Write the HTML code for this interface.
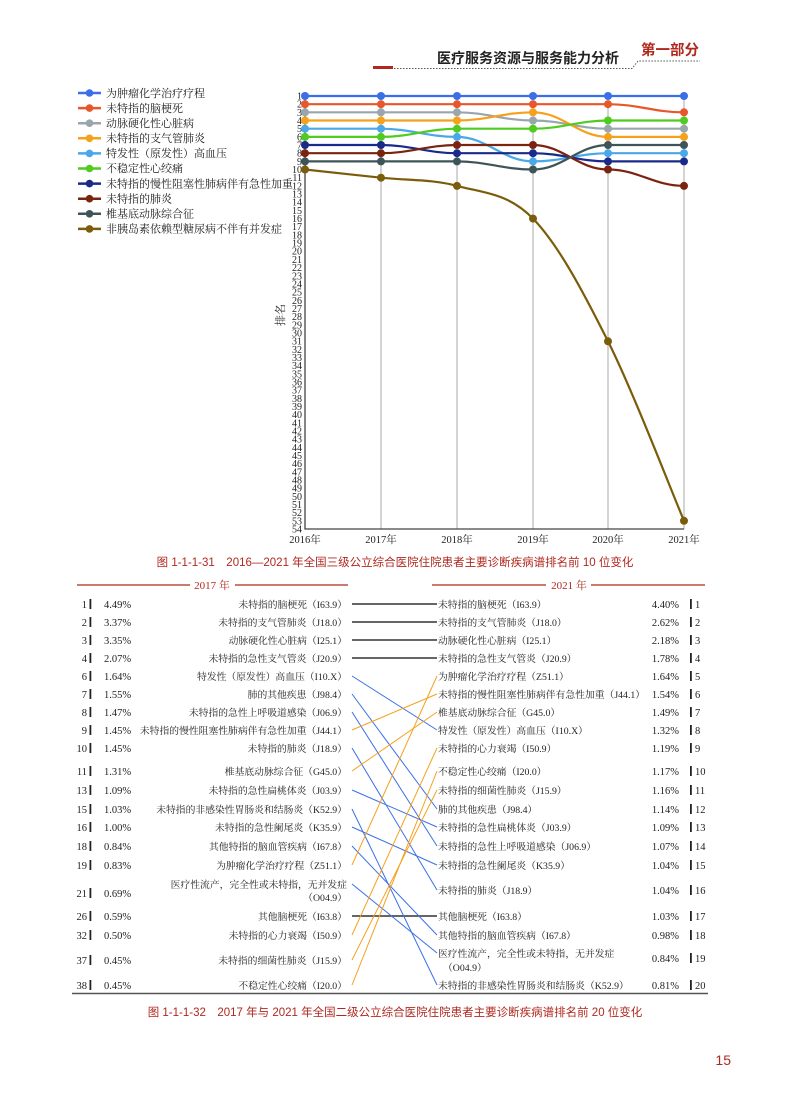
<!DOCTYPE html>
<html><head><meta charset="utf-8"><style>
html,body{margin:0;padding:0;background:#fff}
svg{display:block}
.s{font-family:"Liberation Serif","Noto Serif CJK SC",serif}
.ss{font-family:"Liberation Sans","Noto Sans CJK SC",sans-serif}
</style></head><body>
<svg width="790" height="1100" viewBox="0 0 790 1100" xmlns="http://www.w3.org/2000/svg">
<!-- header -->
<rect x="373" y="66" width="20" height="3" fill="#b0281e"/>
<path d="M394 68.5 H632 L638 61 H700" fill="none" stroke="#555" stroke-width="1" stroke-dasharray="1.5 1.5"/>
<text x="437" y="63" class="ss" font-size="14" fill="#222" font-weight="bold">医疗服务资源与服务能力分析</text>
<text x="641" y="55" class="ss" font-size="14.5" fill="#b0281e" font-weight="bold">第一部分</text>

<!-- legend -->
<g class="s" font-size="11" fill="#222">
<g stroke-width="2.5"><line x1="78" y1="93" x2="101" y2="93" stroke="#3a6fe8"/><circle cx="89.5" cy="93" r="3.8" fill="#3a6fe8"/></g><text x="106" y="97">为肿瘤化学治疗疗程</text>
<g stroke-width="2.5"><line x1="78" y1="108.1" x2="101" y2="108.1" stroke="#e8572a"/><circle cx="89.5" cy="108.1" r="3.8" fill="#e8572a"/></g><text x="106" y="112">未特指的脑梗死</text>
<g stroke-width="2.5"><line x1="78" y1="123.2" x2="101" y2="123.2" stroke="#99a6ad"/><circle cx="89.5" cy="123.2" r="3.8" fill="#99a6ad"/></g><text x="106" y="127">动脉硬化性心脏病</text>
<g stroke-width="2.5"><line x1="78" y1="138.3" x2="101" y2="138.3" stroke="#f5a11c"/><circle cx="89.5" cy="138.3" r="3.8" fill="#f5a11c"/></g><text x="106" y="142">未特指的支气管肺炎</text>
<g stroke-width="2.5"><line x1="78" y1="153.4" x2="101" y2="153.4" stroke="#4aa8ea"/><circle cx="89.5" cy="153.4" r="3.8" fill="#4aa8ea"/></g><text x="106" y="157">特发性（原发性）高血压</text>
<g stroke-width="2.5"><line x1="78" y1="168.5" x2="101" y2="168.5" stroke="#4fcc1f"/><circle cx="89.5" cy="168.5" r="3.8" fill="#4fcc1f"/></g><text x="106" y="172">不稳定性心绞痛</text>
<g stroke-width="2.5"><line x1="78" y1="183.6" x2="101" y2="183.6" stroke="#1a2a8a"/><circle cx="89.5" cy="183.6" r="3.8" fill="#1a2a8a"/></g><text x="106" y="187.5">未特指的慢性阻塞性肺病伴有急性加重</text>
<g stroke-width="2.5"><line x1="78" y1="198.7" x2="101" y2="198.7" stroke="#7a2410"/><circle cx="89.5" cy="198.7" r="3.8" fill="#7a2410"/></g><text x="106" y="202.5">未特指的肺炎</text>
<g stroke-width="2.5"><line x1="78" y1="213.8" x2="101" y2="213.8" stroke="#3d5558"/><circle cx="89.5" cy="213.8" r="3.8" fill="#3d5558"/></g><text x="106" y="217.5">椎基底动脉综合征</text>
<g stroke-width="2.5"><line x1="78" y1="228.9" x2="101" y2="228.9" stroke="#7a5c0a"/><circle cx="89.5" cy="228.9" r="3.8" fill="#7a5c0a"/></g><text x="106" y="232.5">非胰岛素依赖型糖尿病不伴有并发症</text>
</g>

<!-- grid -->
<g stroke="#aaa" stroke-width="1">
<line x1="381" y1="92" x2="381" y2="529"/><line x1="457" y1="92" x2="457" y2="529"/><line x1="533" y1="92" x2="533" y2="529"/><line x1="608" y1="92" x2="608" y2="529"/><line x1="684" y1="92" x2="684" y2="529"/>
</g>
<path d="M305 92 V529 H684" fill="none" stroke="#444" stroke-width="1.3"/>
<text x="284" y="315" class="s" font-size="11" fill="#222" transform="rotate(-90 284 315)" text-anchor="middle">排名</text>
<g class="s" font-size="10" fill="#222" text-anchor="end">
<text x="302" y="99.5">1</text><text x="302" y="107.7">2</text><text x="302" y="115.8">3</text><text x="302" y="124">4</text><text x="302" y="132.2">5</text><text x="302" y="140.4">6</text><text x="302" y="148.5">7</text><text x="302" y="156.7">8</text><text x="302" y="164.9">9</text><text x="302" y="173">10</text>
<text x="302" y="181.2">11</text><text x="302" y="189.4">12</text><text x="302" y="197.5">13</text><text x="302" y="205.7">14</text><text x="302" y="213.9">15</text><text x="302" y="222.1">16</text><text x="302" y="230.2">17</text><text x="302" y="238.4">18</text><text x="302" y="246.6">19</text><text x="302" y="254.7">20</text>
<text x="302" y="262.9">21</text><text x="302" y="271.1">22</text><text x="302" y="279.3">23</text><text x="302" y="287.4">24</text><text x="302" y="295.6">25</text><text x="302" y="303.8">26</text><text x="302" y="311.9">27</text><text x="302" y="320.1">28</text><text x="302" y="328.3">29</text><text x="302" y="336.5">30</text>
<text x="302" y="344.6">31</text><text x="302" y="352.8">32</text><text x="302" y="361">33</text><text x="302" y="369.1">34</text><text x="302" y="377.3">35</text><text x="302" y="385.5">36</text><text x="302" y="393.7">37</text><text x="302" y="401.8">38</text><text x="302" y="410">39</text><text x="302" y="418.2">40</text>
<text x="302" y="426.3">41</text><text x="302" y="434.5">42</text><text x="302" y="442.7">43</text><text x="302" y="450.9">44</text><text x="302" y="459">45</text><text x="302" y="467.2">46</text><text x="302" y="475.4">47</text><text x="302" y="483.5">48</text><text x="302" y="491.7">49</text><text x="302" y="499.9">50</text>
<text x="302" y="508.1">51</text><text x="302" y="516.2">52</text><text x="302" y="524.4">53</text><text x="302" y="532.6">54</text>
</g>
<g class="s" font-size="10.5" fill="#222" text-anchor="middle">
<text x="305" y="543">2016年</text><text x="381" y="543">2017年</text><text x="457" y="543">2018年</text><text x="533" y="543">2019年</text><text x="608" y="543">2020年</text><text x="684" y="543">2021年</text>
</g>

<!-- series -->
<g fill="none" stroke-width="2.2">
<path d="M305 96 H684" stroke="#3a6fe8"/>
<path d="M305 104.2 H608 C638 104.2 654 112.3 684 112.3" stroke="#e8572a"/>
<path d="M305 112.3 H457 C487 112.3 503 120.5 533 120.5 S578 128.7 608 128.7 H684" stroke="#99a6ad"/>
<path d="M305 120.5 H457 C487 120.5 503 112.3 533 112.3 S578 136.9 608 136.9 H684" stroke="#f5a11c"/>
<path d="M305 128.7 H381 C411 128.7 427 136.9 457 136.9 S503 161.4 533 161.4 S578 153.2 608 153.2 H684" stroke="#4aa8ea"/>
<path d="M305 136.9 H381 C411 136.9 427 128.7 457 128.7 H533 C563 128.7 578 120.5 608 120.5 H684" stroke="#4fcc1f"/>
<path d="M305 145 H381 C411 145 427 153.2 457 153.2 H533 C563 153.2 578 161.4 608 161.4 H684" stroke="#1a2a8a"/>
<path d="M305 153.2 H381 C411 153.2 427 145 457 145 H533 C563 145 578 169.5 608 169.5 S654 185.9 684 185.9" stroke="#7a2410"/>
<path d="M305 161.4 H457 C487 161.4 503 169.5 533 169.5 S578 145 608 145 H684" stroke="#3d5558"/>
<path d="M305 169.5 C317.7 170.9 355.7 175 381 177.7 C406.3 180.4 431.7 179.1 457 185.9 C482.3 192.7 507.8 192.7 533 218.6 C558.2 244.5 582.8 290.9 608 341.3 C633.2 391.7 671.3 490.9 684 520.8" stroke="#7a5c0a"/>
</g>
<g>
<g fill="#3a6fe8"><circle cx="305" cy="96" r="4"/><circle cx="381" cy="96" r="4"/><circle cx="457" cy="96" r="4"/><circle cx="533" cy="96" r="4"/><circle cx="608" cy="96" r="4"/><circle cx="684" cy="96" r="4"/></g>
<g fill="#e8572a"><circle cx="305" cy="104.2" r="4"/><circle cx="381" cy="104.2" r="4"/><circle cx="457" cy="104.2" r="4"/><circle cx="533" cy="104.2" r="4"/><circle cx="608" cy="104.2" r="4"/><circle cx="684" cy="112.3" r="4"/></g>
<g fill="#99a6ad"><circle cx="305" cy="112.3" r="4"/><circle cx="381" cy="112.3" r="4"/><circle cx="457" cy="112.3" r="4"/><circle cx="533" cy="120.5" r="4"/><circle cx="608" cy="128.7" r="4"/><circle cx="684" cy="128.7" r="4"/></g>
<g fill="#f5a11c"><circle cx="305" cy="120.5" r="4"/><circle cx="381" cy="120.5" r="4"/><circle cx="457" cy="120.5" r="4"/><circle cx="533" cy="112.3" r="4"/><circle cx="608" cy="136.9" r="4"/><circle cx="684" cy="136.9" r="4"/></g>
<g fill="#4aa8ea"><circle cx="305" cy="128.7" r="4"/><circle cx="381" cy="128.7" r="4"/><circle cx="457" cy="136.9" r="4"/><circle cx="533" cy="161.4" r="4"/><circle cx="608" cy="153.2" r="4"/><circle cx="684" cy="153.2" r="4"/></g>
<g fill="#4fcc1f"><circle cx="305" cy="136.9" r="4"/><circle cx="381" cy="136.9" r="4"/><circle cx="457" cy="128.7" r="4"/><circle cx="533" cy="128.7" r="4"/><circle cx="608" cy="120.5" r="4"/><circle cx="684" cy="120.5" r="4"/></g>
<g fill="#1a2a8a"><circle cx="305" cy="145" r="4"/><circle cx="381" cy="145" r="4"/><circle cx="457" cy="153.2" r="4"/><circle cx="533" cy="153.2" r="4"/><circle cx="608" cy="161.4" r="4"/><circle cx="684" cy="161.4" r="4"/></g>
<g fill="#7a2410"><circle cx="305" cy="153.2" r="4"/><circle cx="381" cy="153.2" r="4"/><circle cx="457" cy="145" r="4"/><circle cx="533" cy="145" r="4"/><circle cx="608" cy="169.5" r="4"/><circle cx="684" cy="185.9" r="4"/></g>
<g fill="#3d5558"><circle cx="305" cy="161.4" r="4"/><circle cx="381" cy="161.4" r="4"/><circle cx="457" cy="161.4" r="4"/><circle cx="533" cy="169.5" r="4"/><circle cx="608" cy="145" r="4"/><circle cx="684" cy="145" r="4"/></g>
<g fill="#7a5c0a"><circle cx="305" cy="169.5" r="4"/><circle cx="381" cy="177.7" r="4"/><circle cx="457" cy="185.9" r="4"/><circle cx="533" cy="218.6" r="4"/><circle cx="608" cy="341.3" r="4"/><circle cx="684" cy="520.8" r="4"/></g>
</g>

<text x="395" y="566" class="ss" font-size="11.5" fill="#b0281e" text-anchor="middle">图 1-1-1-31　2016—2021 年全国三级公立综合医院住院患者主要诊断疾病谱排名前 10 位变化</text>

<!-- table header -->
<g stroke="#b0281e" stroke-width="1.2">
<line x1="77" y1="585" x2="190" y2="585"/><line x1="235" y1="585" x2="348" y2="585"/>
<line x1="432" y1="585" x2="546" y2="585"/><line x1="591" y1="585" x2="705" y2="585"/>
</g>
<text x="212" y="589" class="s" font-size="11" fill="#b0281e" text-anchor="middle">2017 年</text>
<text x="569" y="589" class="s" font-size="11" fill="#b0281e" text-anchor="middle">2021 年</text>

<!-- connectors -->
<g stroke-width="1" fill="none">
<g stroke="#333" stroke-width="1.4"><line x1="352" y1="604" x2="437" y2="604"/><line x1="352" y1="622" x2="437" y2="622"/><line x1="352" y1="640" x2="437" y2="640"/><line x1="352" y1="658" x2="437" y2="658"/><line x1="352" y1="916" x2="437" y2="916"/></g>
<g stroke="#3a6fe8">
<line x1="352" y1="676" x2="437" y2="730"/><line x1="352" y1="694" x2="437" y2="809"/><line x1="352" y1="712" x2="437" y2="846"/><line x1="352" y1="748" x2="437" y2="890"/><line x1="352" y1="790" x2="437" y2="827"/><line x1="352" y1="809" x2="437" y2="985"/><line x1="352" y1="827" x2="437" y2="865"/><line x1="352" y1="846" x2="437" y2="935"/><line x1="352" y1="884" x2="437" y2="953"/>
</g>
<g stroke="#f5a11c">
<line x1="352" y1="730" x2="437" y2="694"/><line x1="352" y1="771" x2="437" y2="712"/><line x1="352" y1="865" x2="437" y2="676"/><line x1="352" y1="935" x2="437" y2="748"/><line x1="352" y1="960" x2="437" y2="790"/><line x1="352" y1="985" x2="437" y2="771"/>
</g>
</g>

<!-- left table -->
<g class="s" font-size="10.5" fill="#222">
<g text-anchor="end">
<text x="87" y="608">1</text><text x="87" y="626">2</text><text x="87" y="644">3</text><text x="87" y="662">4</text><text x="87" y="680">6</text><text x="87" y="698">7</text><text x="87" y="716">8</text><text x="87" y="734">9</text><text x="87" y="752">10</text><text x="87" y="775">11</text><text x="87" y="794">13</text><text x="87" y="813">15</text><text x="87" y="831">16</text><text x="87" y="850">18</text><text x="87" y="869">19</text><text x="87" y="897">21</text><text x="87" y="920">26</text><text x="87" y="939">32</text><text x="87" y="964">37</text><text x="87" y="989">38</text>
</g>
<g fill="#222"><rect x="89.5" y="599" width="1.8" height="10"/><rect x="89.5" y="617" width="1.8" height="10"/><rect x="89.5" y="635" width="1.8" height="10"/><rect x="89.5" y="653" width="1.8" height="10"/><rect x="89.5" y="671" width="1.8" height="10"/><rect x="89.5" y="689" width="1.8" height="10"/><rect x="89.5" y="707" width="1.8" height="10"/><rect x="89.5" y="725" width="1.8" height="10"/><rect x="89.5" y="743" width="1.8" height="10"/><rect x="89.5" y="766" width="1.8" height="10"/><rect x="89.5" y="785" width="1.8" height="10"/><rect x="89.5" y="804" width="1.8" height="10"/><rect x="89.5" y="822" width="1.8" height="10"/><rect x="89.5" y="841" width="1.8" height="10"/><rect x="89.5" y="860" width="1.8" height="10"/><rect x="89.5" y="888" width="1.8" height="10"/><rect x="89.5" y="911" width="1.8" height="10"/><rect x="89.5" y="930" width="1.8" height="10"/><rect x="89.5" y="955" width="1.8" height="10"/><rect x="89.5" y="980" width="1.8" height="10"/></g>
<text x="104" y="608">4.49%</text><text x="104" y="626">3.37%</text><text x="104" y="644">3.35%</text><text x="104" y="662">2.07%</text><text x="104" y="680">1.64%</text><text x="104" y="698">1.55%</text><text x="104" y="716">1.47%</text><text x="104" y="734">1.45%</text><text x="104" y="752">1.45%</text><text x="104" y="775">1.31%</text><text x="104" y="794">1.09%</text><text x="104" y="813">1.03%</text><text x="104" y="831">1.00%</text><text x="104" y="850">0.84%</text><text x="104" y="869">0.83%</text><text x="104" y="897">0.69%</text><text x="104" y="920">0.59%</text><text x="104" y="939">0.50%</text><text x="104" y="964">0.45%</text><text x="104" y="989">0.45%</text>
<g text-anchor="end" font-size="9.8">
<text x="347" y="608">未特指的脑梗死（I63.9）</text>
<text x="347" y="626">未特指的支气管肺炎（J18.0）</text>
<text x="347" y="644">动脉硬化性心脏病（I25.1）</text>
<text x="347" y="662">未特指的急性支气管炎（J20.9）</text>
<text x="347" y="680">特发性（原发性）高血压（I10.X）</text>
<text x="347" y="698">肺的其他疾患（J98.4）</text>
<text x="347" y="716">未特指的急性上呼吸道感染（J06.9）</text>
<text x="347" y="734">未特指的慢性阻塞性肺病伴有急性加重（J44.1）</text>
<text x="347" y="752">未特指的肺炎（J18.9）</text>
<text x="347" y="775">椎基底动脉综合征（G45.0）</text>
<text x="347" y="794">未特指的急性扁桃体炎（J03.9）</text>
<text x="347" y="813">未特指的非感染性胃肠炎和结肠炎（K52.9）</text>
<text x="347" y="831">未特指的急性阑尾炎（K35.9）</text>
<text x="347" y="850">其他特指的脑血管疾病（I67.8）</text>
<text x="347" y="869">为肿瘤化学治疗疗程（Z51.1）</text>
<text x="347" y="888">医疗性流产，完全性或未特指，无并发症</text>
<text x="347" y="901">（O04.9）</text>
<text x="347" y="920">其他脑梗死（I63.8）</text>
<text x="347" y="939">未特指的心力衰竭（I50.9）</text>
<text x="347" y="964">未特指的细菌性肺炎（J15.9）</text>
<text x="347" y="989">不稳定性心绞痛（I20.0）</text>
</g>

<!-- right table -->
<g font-size="9.8">
<text x="438" y="608">未特指的脑梗死（I63.9）</text>
<text x="438" y="626">未特指的支气管肺炎（J18.0）</text>
<text x="438" y="644">动脉硬化性心脏病（I25.1）</text>
<text x="438" y="662">未特指的急性支气管炎（J20.9）</text>
<text x="438" y="680">为肿瘤化学治疗疗程（Z51.1）</text>
<text x="438" y="698">未特指的慢性阻塞性肺病伴有急性加重（J44.1）</text>
<text x="438" y="716">椎基底动脉综合征（G45.0）</text>
<text x="438" y="734">特发性（原发性）高血压（I10.X）</text>
<text x="438" y="752">未特指的心力衰竭（I50.9）</text>
<text x="438" y="775">不稳定性心绞痛（I20.0）</text>
<text x="438" y="794">未特指的细菌性肺炎（J15.9）</text>
<text x="438" y="813">肺的其他疾患（J98.4）</text>
<text x="438" y="831">未特指的急性扁桃体炎（J03.9）</text>
<text x="438" y="850">未特指的急性上呼吸道感染（J06.9）</text>
<text x="438" y="869">未特指的急性阑尾炎（K35.9）</text>
<text x="438" y="894">未特指的肺炎（J18.9）</text>
<text x="438" y="920">其他脑梗死（I63.8）</text>
<text x="438" y="939">其他特指的脑血管疾病（I67.8）</text>
<text x="438" y="957">医疗性流产，完全性或未特指，无并发症</text>
<text x="443" y="971">（O04.9）</text>
<text x="438" y="989">未特指的非感染性胃肠炎和结肠炎（K52.9）</text>
</g>
<g text-anchor="end">
<text x="679" y="608">4.40%</text><text x="679" y="626">2.62%</text><text x="679" y="644">2.18%</text><text x="679" y="662">1.78%</text><text x="679" y="680">1.64%</text><text x="679" y="698">1.54%</text><text x="679" y="716">1.49%</text><text x="679" y="734">1.32%</text><text x="679" y="752">1.19%</text><text x="679" y="775">1.17%</text><text x="679" y="794">1.16%</text><text x="679" y="813">1.14%</text><text x="679" y="831">1.09%</text><text x="679" y="850">1.07%</text><text x="679" y="869">1.04%</text><text x="679" y="894">1.04%</text><text x="679" y="920">1.03%</text><text x="679" y="939">0.98%</text><text x="679" y="962">0.84%</text><text x="679" y="989">0.81%</text>
</g>
<g fill="#222"><rect x="690" y="599" width="1.8" height="10"/><rect x="690" y="617" width="1.8" height="10"/><rect x="690" y="635" width="1.8" height="10"/><rect x="690" y="653" width="1.8" height="10"/><rect x="690" y="671" width="1.8" height="10"/><rect x="690" y="689" width="1.8" height="10"/><rect x="690" y="707" width="1.8" height="10"/><rect x="690" y="725" width="1.8" height="10"/><rect x="690" y="743" width="1.8" height="10"/><rect x="690" y="766" width="1.8" height="10"/><rect x="690" y="785" width="1.8" height="10"/><rect x="690" y="804" width="1.8" height="10"/><rect x="690" y="822" width="1.8" height="10"/><rect x="690" y="841" width="1.8" height="10"/><rect x="690" y="860" width="1.8" height="10"/><rect x="690" y="885" width="1.8" height="10"/><rect x="690" y="911" width="1.8" height="10"/><rect x="690" y="930" width="1.8" height="10"/><rect x="690" y="953" width="1.8" height="10"/><rect x="690" y="980" width="1.8" height="10"/></g>
<text x="695" y="608">1</text><text x="695" y="626">2</text><text x="695" y="644">3</text><text x="695" y="662">4</text><text x="695" y="680">5</text><text x="695" y="698">6</text><text x="695" y="716">7</text><text x="695" y="734">8</text><text x="695" y="752">9</text><text x="695" y="775">10</text><text x="695" y="794">11</text><text x="695" y="813">12</text><text x="695" y="831">13</text><text x="695" y="850">14</text><text x="695" y="869">15</text><text x="695" y="894">16</text><text x="695" y="920">17</text><text x="695" y="939">18</text><text x="695" y="962">19</text><text x="695" y="989">20</text>
</g>
<line x1="72" y1="993.5" x2="708" y2="993.5" stroke="#555" stroke-width="1.5"/>
<text x="395" y="1016" class="ss" font-size="11.5" fill="#b0281e" text-anchor="middle">图 1-1-1-32　2017 年与 2021 年全国二级公立综合医院住院患者主要诊断疾病谱排名前 20 位变化</text>
<text x="731" y="1065" class="ss" font-size="14" fill="#b0281e" text-anchor="end">15</text>
</svg>
</body></html>
